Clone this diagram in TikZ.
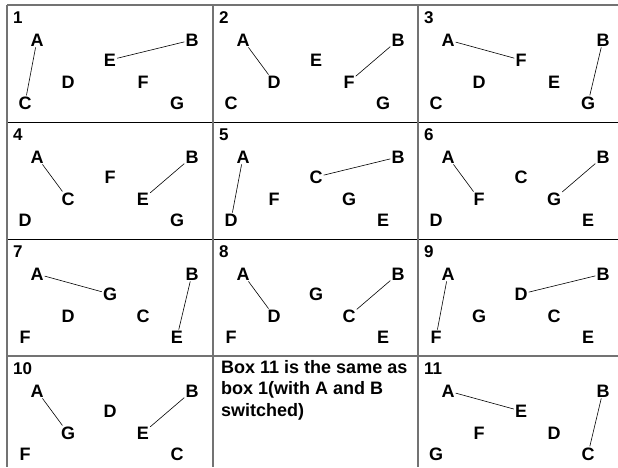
\documentclass[tikz,border=0pt]{standalone}
\usepackage{fontspec}
\setmainfont{Liberation Sans}
\tikzset{
  lt/.style={font=\bfseries\fontsize{18}{20}\selectfont, inner sep=1pt},
  num/.style={font=\bfseries\fontsize{17}{19}\selectfont, anchor=base west, inner sep=0pt},
  conn/.style={line width=0.6pt},
  gridg/.style={draw=black!55, line width=1.5pt},
  gridk/.style={draw=black, line width=0.9pt},
  note/.style={font=\bfseries\fontsize{18}{21.7}\selectfont, anchor=north west, align=left, inner sep=0pt}
}
% #1 id, #2 x0, #3 y0, #4 P3, #5 P4, #6 P5, #7 P6, #8 P7
\newcommand\panelbox[8]{%
  \begin{scope}[shift={(#2,#3)}]
    \node[num] (n#1) at (6,18) {#1};
    \node[lt] (p#1-A) at (30,35) {A};
    \node[lt] (p#1-B) at (185,35) {B};
    \node[lt] (p#1-#4) at (103,55) {#4};
    \node[lt] (p#1-#5) at (61,77) {#5};
    \node[lt] (p#1-#6) at (136,77) {#6};
    \node[lt] (p#1-#7) at (18,98) {#7};
    \node[lt] (p#1-#8) at (170,98) {#8};
  \end{scope}}
\begin{document}
\begin{tikzpicture}[x=1pt,y=-1pt]
\useasboundingbox (0,0) rectangle (618,467);
% grid
\coordinate (h0a) at (7,5);   \coordinate (h0b) at (618,5);
\coordinate (h1a) at (7,122); \coordinate (h1b) at (618,122);
\coordinate (h2a) at (7,239); \coordinate (h2b) at (618,239);
\coordinate (h3a) at (7,356); \coordinate (h3b) at (618,356);
\coordinate (v0a) at (7,5);   \coordinate (v0b) at (7,467);
\coordinate (v1a) at (213,5); \coordinate (v1b) at (213,467);
\coordinate (v2a) at (418,5); \coordinate (v2b) at (418,467);
\draw[gridg] (h0a) -- (h0b);
\draw[gridk] (h1a) -- (h1b);
\draw[gridk] (h2a) -- (h2b);
\draw[gridg] (h3a) -- (h3b);
\draw[gridg] (v0a) -- (v0b);
\draw[gridg] (v1a) -- (v1b);
\draw[gridg] (v2a) -- (v2b);
% panels
\panelbox{1}{7}{5}{E}{D}{F}{C}{G}
\panelbox{2}{213}{5}{E}{D}{F}{C}{G}
\panelbox{3}{418}{5}{F}{D}{E}{C}{G}
\panelbox{4}{7}{122}{F}{C}{E}{D}{G}
\panelbox{5}{213}{122}{C}{F}{G}{D}{E}
\panelbox{6}{418}{122}{C}{F}{G}{D}{E}
\panelbox{7}{7}{239}{G}{D}{C}{F}{E}
\panelbox{8}{213}{239}{G}{D}{C}{F}{E}
\panelbox{9}{418}{239}{D}{G}{C}{F}{E}
\panelbox{10}{7}{356}{D}{G}{E}{F}{C}
\panelbox{11}{418}{356}{E}{F}{D}{G}{C}
% connectors
\draw[conn] (p1-A) -- (p1-C);  \draw[conn] (p1-E) -- (p1-B);
\draw[conn] (p2-A) -- (p2-D);  \draw[conn] (p2-B) -- (p2-F);
\draw[conn] (p3-A) -- (p3-F);  \draw[conn] (p3-B) -- (p3-G);
\draw[conn] (p4-A) -- (p4-C);  \draw[conn] (p4-B) -- (p4-E);
\draw[conn] (p5-A) -- (p5-D);  \draw[conn] (p5-C) -- (p5-B);
\draw[conn] (p6-A) -- (p6-F);  \draw[conn] (p6-B) -- (p6-G);
\draw[conn] (p7-A) -- (p7-G);  \draw[conn] (p7-B) -- (p7-E);
\draw[conn] (p8-A) -- (p8-D);  \draw[conn] (p8-B) -- (p8-C);
\draw[conn] (p9-A) -- (p9-F);  \draw[conn] (p9-D) -- (p9-B);
\draw[conn] (p10-A) -- (p10-G); \draw[conn] (p10-B) -- (p10-E);
\draw[conn] (p11-A) -- (p11-E); \draw[conn] (p11-B) -- (p11-C);
% note
\node[note] (txt) at (221,360) {Box 11 is the same as\\box 1(with A and B\\switched)};
\end{tikzpicture}
\end{document}
